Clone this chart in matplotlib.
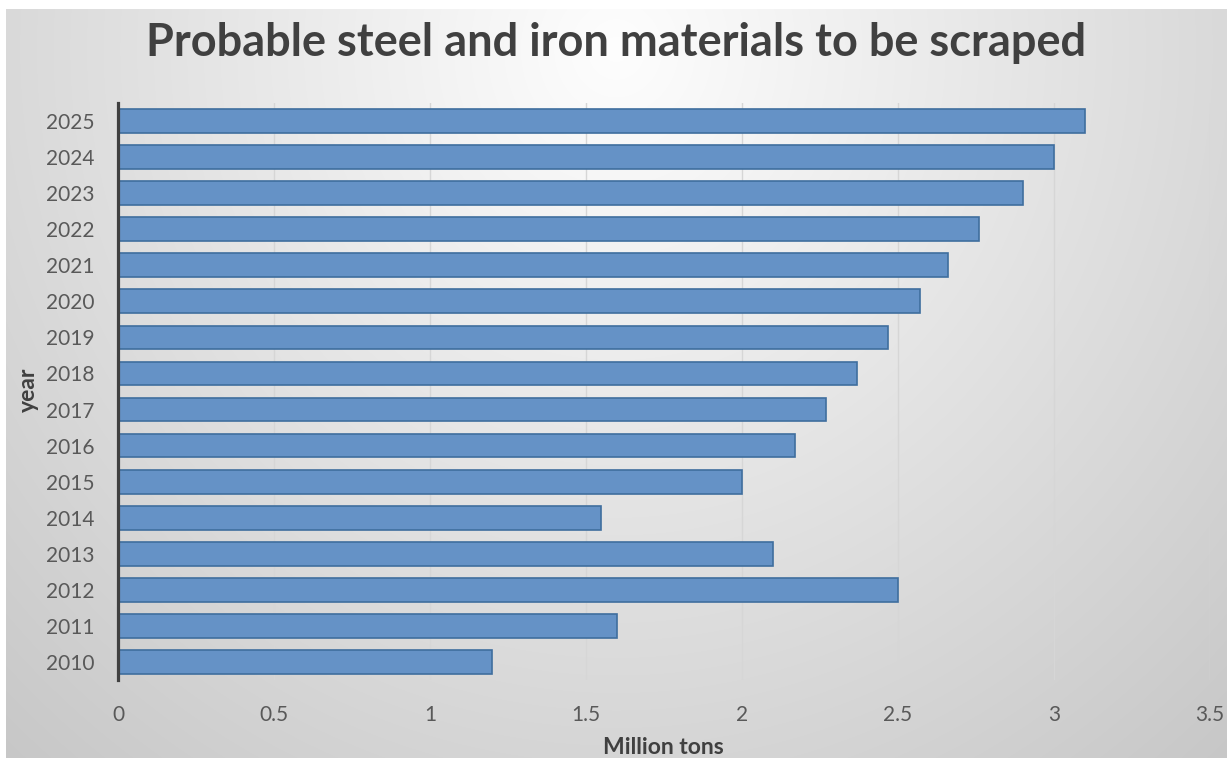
import numpy as np
import matplotlib
matplotlib.use("Agg")
import matplotlib.pyplot as plt

years = ["2010", "2011", "2012", "2013", "2014", "2015", "2016", "2017",
         "2018", "2019", "2020", "2021", "2022", "2023", "2024", "2025"]
scrap = [1.20, 1.60, 2.50, 2.10, 1.55, 2.00, 2.17, 2.27,
         2.37, 2.47, 2.57, 2.66, 2.76, 2.90, 3.00, 3.10]
x_ticks = [0, 0.5, 1, 1.5, 2, 2.5, 3, 3.5]
x_tick_labels = ["0", "0.5", "1", "1.5", "2", "2.5", "3", "3.5"]

plt.rcParams["font.family"] = ["Lato", "DejaVu Sans"]

W, H = 1227, 758
fig = plt.figure(figsize=(W / 100, H / 100), dpi=100, facecolor="white")

# radial grey background of the chart area
bg_left, bg_top = 6, 9
bw, bh = W - bg_left, H - bg_top
yy, xx = np.mgrid[0:bh, 0:bw]
cx, cy = 610, 40
d = np.sqrt(((xx - cx) / 1.0) ** 2 + ((yy - cy) / 1.05) ** 2)
shade = np.clip(0.995 - 0.000235 * d, 0.76, 1.0)
bg = fig.add_axes([bg_left / W, 0, bw / W, bh / H], zorder=0)
bg.imshow(np.dstack([shade] * 3), aspect="auto", interpolation="bilinear")
bg.axis("off")

ax = fig.add_axes([118 / W, 1 - 680 / H, (1209.7 - 118) / W, (680 - 103) / H], zorder=1)
ax.patch.set_alpha(0)

pos = np.arange(len(years))
ax.barh(pos, scrap, height=0.66, color="#6592c6", edgecolor="#3f6e9e",
        linewidth=1.2, zorder=3)

ax.set_xlim(0, 3.5)
ax.set_ylim(-0.5, len(years) - 0.5)
ax.set_xticks(x_ticks)
ax.set_xticklabels(x_tick_labels)
ax.set_yticks(pos)
ax.set_yticklabels(years)
ax.tick_params(axis="both", length=0, labelsize=15, colors="#595959")
ax.tick_params(axis="x", pad=18)
ax.tick_params(axis="y", pad=17)

ax.grid(axis="x", color="#d6d6d6", linewidth=1.0, zorder=1)
ax.grid(axis="y", visible=False)
for side in ("top", "right", "bottom"):
    ax.spines[side].set_visible(False)
ax.spines["left"].set_color("#404040")
ax.spines["left"].set_linewidth(2.3)
ax.spines["left"].set_zorder(4)

fig.text(616 / W, 1 - 43 / H, "Probable steel and iron materials to be scraped",
         ha="center", va="center", fontsize=32.5, fontweight="bold", color="#404040")
fig.text(663 / W, 1 - 747 / H, "Million tons", ha="center", va="center",
         fontsize=16.5, fontweight="bold", color="#404040")
fig.text(28 / W, 1 - 390 / H, "year", ha="center", va="center", rotation=90,
         fontsize=16.5, fontweight="bold", color="#404040")

fig.savefig("out.png", dpi=100, facecolor="white")
